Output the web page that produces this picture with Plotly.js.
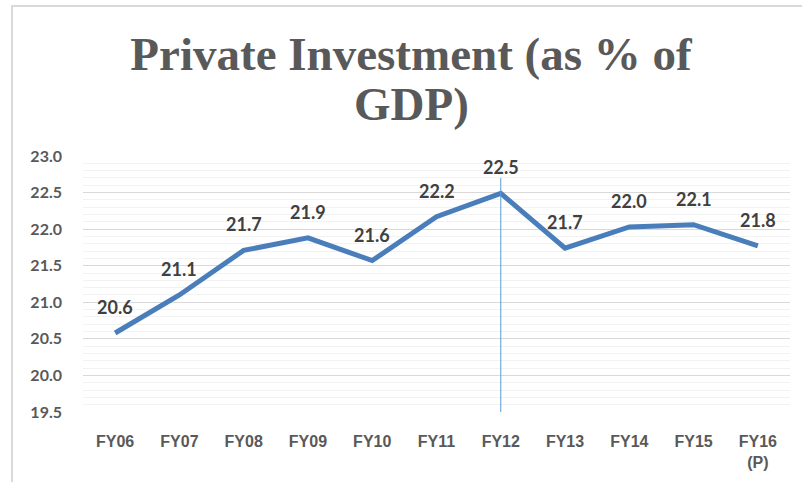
<!DOCTYPE html>
<html>
<head>
<meta charset="utf-8">
<script src="https://cdn.plot.ly/plotly-3.0.1.min.js"></script>
<style>
  html, body { margin: 0; padding: 0; background: #fff; }
  #wrap { position: relative; width: 802px; height: 482px; overflow: hidden; }
  #chart { width: 802px; height: 482px; }
  #frame { position: absolute; left: 11px; top: 5px; width: 800px; height: 490px;
           border: 2px solid #d9d9d9; pointer-events: none; box-sizing: border-box; }
</style>
</head>
<body>
<div id="wrap">
  <div id="chart"></div>
  <div id="frame"></div>
</div>
<script>
const categories = ["FY06", "FY07", "FY08", "FY09", "FY10", "FY11", "FY12", "FY13", "FY14", "FY15", "FY16<br>(P)"];
const values = [20.58, 21.10, 21.71, 21.88, 21.57, 22.17, 22.49, 21.74, 22.03, 22.06, 21.77];
const yTickValues = [19.5, 20.0, 20.5, 21.0, 21.5, 22.0, 22.5, 23.0];
const yTickLabels = ["19.5", "20.0", "20.5", "21.0", "21.5", "22.0", "22.5", "23.0"];
const titleLine1 = "Private Investment (as % of";
const titleLine2 = "GDP)";
const markerCategory = "FY12";
const markerTop = 22.7;

const titleFont = { family: "'Liberation Serif', 'DejaVu Serif', serif", size: 47, color: "#595959", weight: "bold" };
const labelFont = { family: "Lato, 'Open Sans', sans-serif", size: 18, color: "#404040", weight: "bold" };

const annotations = categories.map((c, i) => ({
  x: c, y: values[i], xref: "x", yref: "y",
  text: "<b>" + values[i].toFixed(1) + "</b>",
  showarrow: false, yshift: 26,
  font: labelFont
}));
annotations.push({
  x: (411 - 83) / 707, xref: "paper", xanchor: "center",
  y: 1, yref: "paper", yanchor: "bottom", yshift: 24,
  text: "<b>" + titleLine2 + "</b>", showarrow: false, font: titleFont
});

const trace = {
  x: categories, y: values, type: "scatter", mode: "lines",
  line: { color: "#4a7ebb", width: 5 },
  hoverinfo: "skip"
};

const layout = {
  width: 802, height: 482,
  paper_bgcolor: "#ffffff", plot_bgcolor: "#ffffff",
  margin: { l: 83, r: 12, t: 156, b: 70 },
  showlegend: false,
  title: {
    text: "<b>" + titleLine1 + "</b>",
    font: titleFont,
    x: 411 / 802, xanchor: "center", xref: "container",
    y: 1 - 70 / 482, yanchor: "bottom", yref: "container"
  },
  xaxis: {
    type: "category",
    range: [-0.5, 10.5],
    showgrid: false, zeroline: false, showline: false,
    ticks: "",
    tickfont: { family: "'Liberation Sans Narrow', 'Liberation Sans', sans-serif", size: 16, color: "#595959", weight: "bold" },
    ticklabelstandoff: 18
  },
  yaxis: {
    range: [19.5, 23.0],
    tickvals: yTickValues, ticktext: yTickLabels,
    showgrid: true, gridcolor: "#d9d9d9", gridwidth: 1,
    minor: { dtick: 0.1, showgrid: true, gridcolor: "#f2f2f2", gridwidth: 1 },
    zeroline: false, showline: false, ticks: "",
    tickfont: { family: "Lato, 'Open Sans', sans-serif", size: 16, color: "#595959", weight: "bold" },
    ticklabelstandoff: 20
  },
  shapes: [{
    type: "line", xref: "x", yref: "y",
    x0: markerCategory, x1: markerCategory, y0: 19.5, y1: markerTop,
    line: { color: "#5b9bd5", width: 1 }
  }],
  annotations: annotations
};

Plotly.newPlot("chart", [trace], layout, { displayModeBar: false, staticPlot: true });
</script>
</body>
</html>
